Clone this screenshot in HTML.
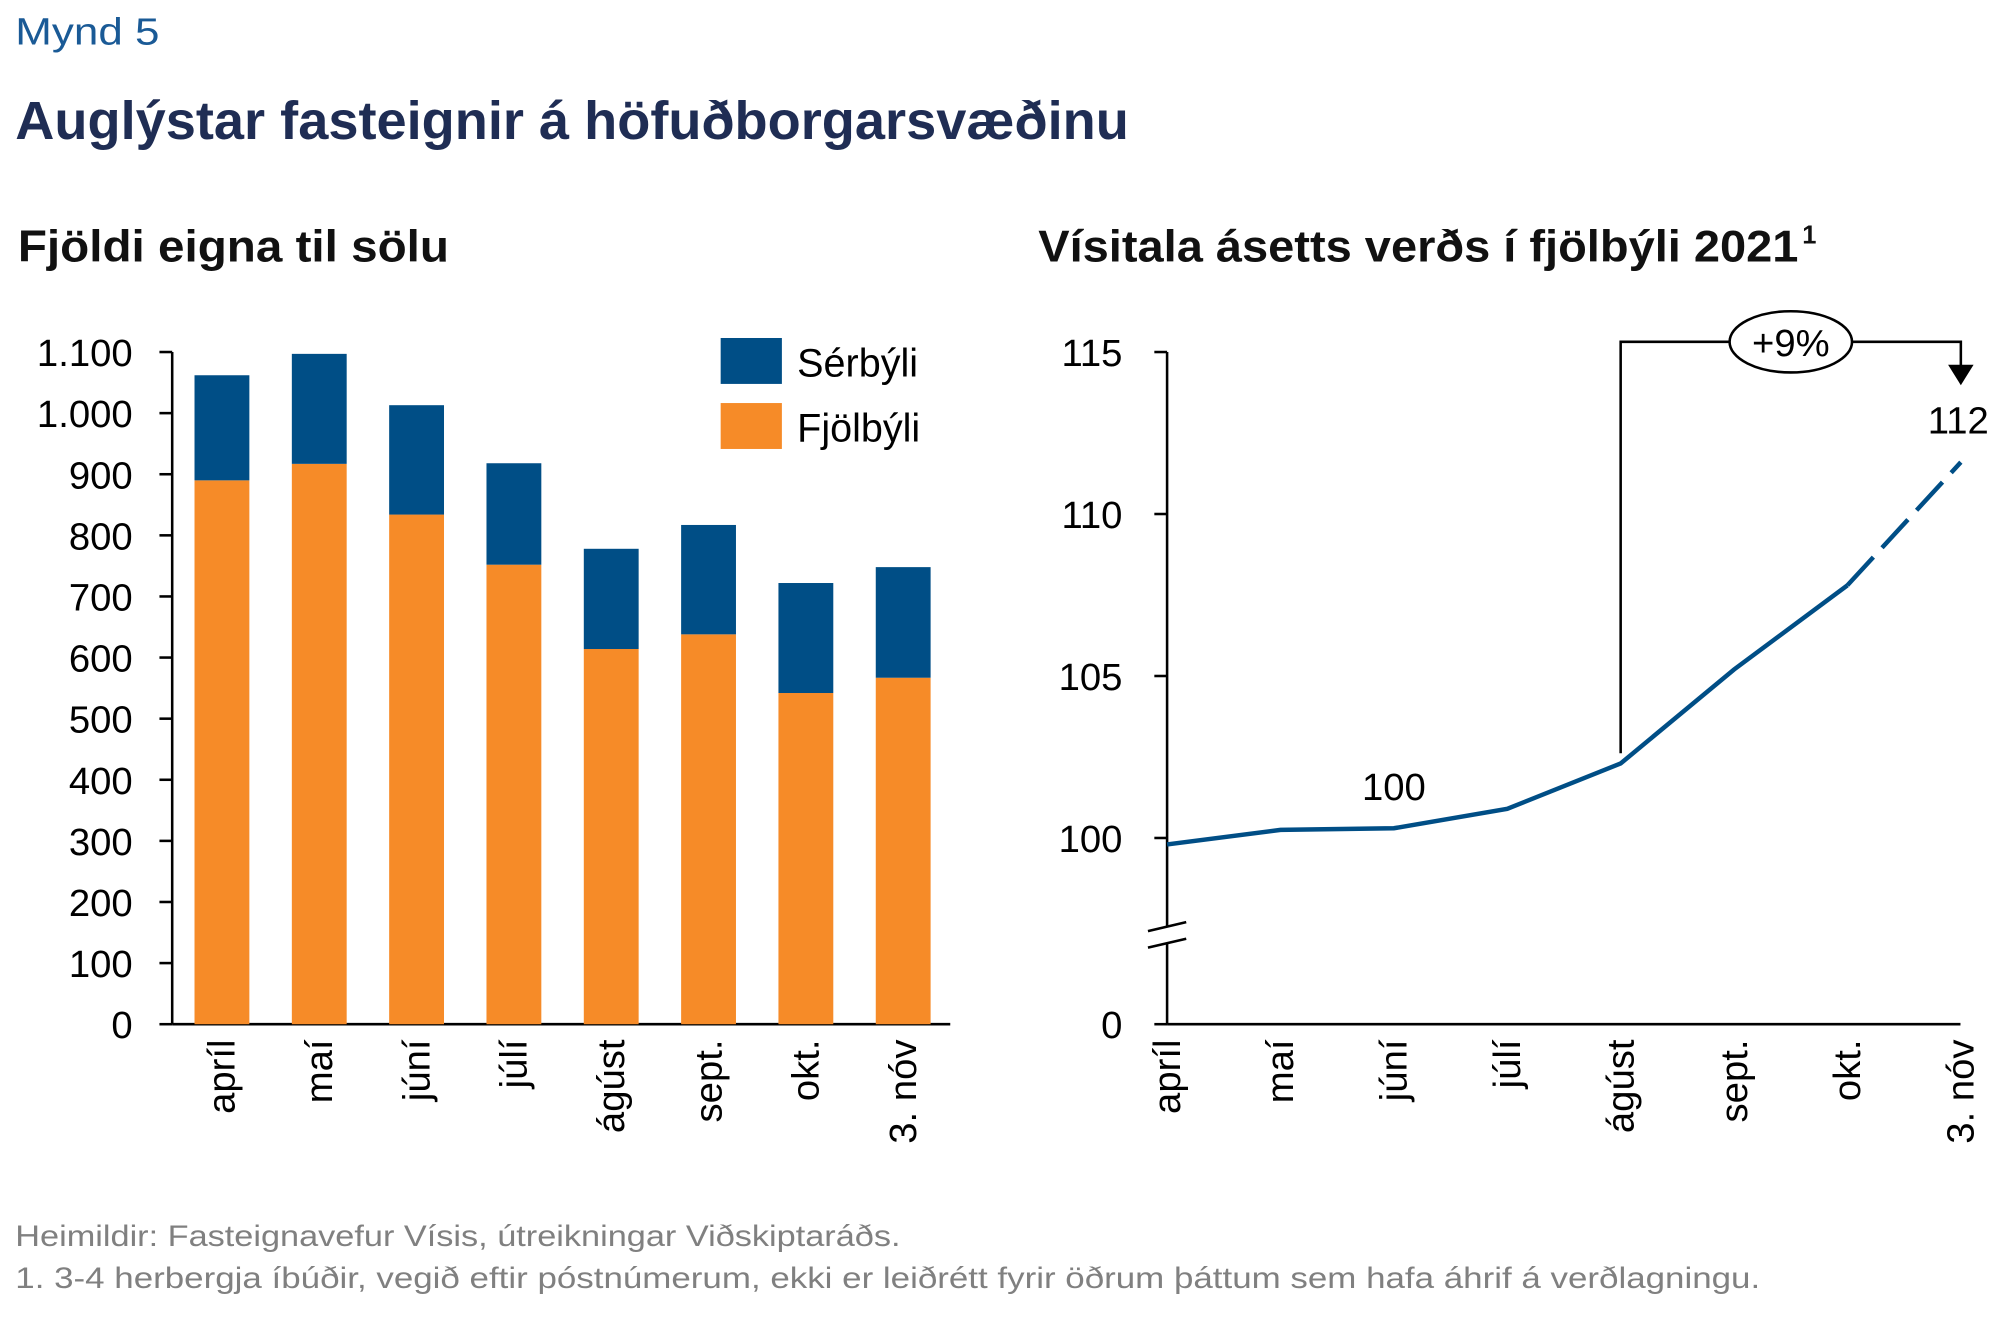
<!DOCTYPE html>
<html><head><meta charset="utf-8"><style>
html,body{margin:0;padding:0;background:#fff}
svg{display:block;font-family:"Liberation Sans",sans-serif}
</style></head><body>
<svg id="c" width="2000" height="1321" viewBox="0 0 1568 1035.7" preserveAspectRatio="none">
<text x="12" y="35" font-size="30" fill="#1a5a96" textLength="113" lengthAdjust="spacingAndGlyphs">Mynd 5</text>
<text x="12" y="109" font-size="42" font-weight="bold" fill="#1f2d54" textLength="873" lengthAdjust="spacingAndGlyphs">Auglýstar fasteignir á höfuðborgarsvæðinu</text>
<text x="14" y="205" font-size="35" font-weight="bold" fill="#111" textLength="338" lengthAdjust="spacingAndGlyphs">Fjöldi eigna til sölu</text>
<text x="814" y="205" font-size="35" font-weight="bold" fill="#111"><tspan textLength="596" lengthAdjust="spacingAndGlyphs">Vísitala ásetts verðs í fjölbýli 2021</tspan><tspan font-size="20" dx="3" dy="-14">1</tspan></text>
<g id="left"></g>
<g id="right"></g>
<text x="12" y="977" font-size="23" fill="#808080" textLength="694" lengthAdjust="spacingAndGlyphs">Heimildir: Fasteignavefur Vísis, útreikningar Viðskiptaráðs.</text>
<text x="12" y="1010" font-size="23" fill="#808080" textLength="1368" lengthAdjust="spacingAndGlyphs">1. 3-4 herbergja íbúðir, vegið eftir póstnúmerum, ekki er leiðrétt fyrir öðrum þáttum sem hafa áhrif á verðlagningu.</text>
</svg>
<script>
const months = ["apríl","maí","júní","júlí","ágúst","sept.","okt.","3. nóv"];
const fjolbyli = [890,917,834,752,614,638,542,567];
const serbyli = [172,180,179,166,164,179,180,181];
const leftTicks = [0,100,200,300,400,500,600,700,800,900,1000,1100];
const leftTickLabels = ["0","100","200","300","400","500","600","700","800","900","1.000","1.100"];
const index = [99.8,100.25,100.3,100.9,102.3,105.2,107.8,111.6];
const rightTicks = [100,105,110,115];

const NS="http://www.w3.org/2000/svg";
function mk(p,t,a,txt){const e=document.createElementNS(NS,t);for(const k in a)e.setAttribute(k,a[k]);if(txt!==undefined)e.textContent=txt;p.appendChild(e);return e;}
const L=document.getElementById('left'), R=document.getElementById('right');
const y0=803, yTop=276;
const ly=v=>y0-(v/1100)*(y0-yTop);
const lx=i=>174+i*76.3;
let e;
e=mk(L,'line',{x1:135,y1:276,x2:135,y2:803,stroke:'#000','stroke-width':2});


e=mk(L,'line',{x1:135,y1:803,x2:745,y2:803,stroke:'#000','stroke-width':2});


leftTicks.forEach((v,i)=>{
  mk(L,'line',{x1:125,y1:ly(v),x2:135,y2:ly(v),stroke:'#000','stroke-width':2});
  e=mk(L,'text',{x:104,y:ly(v)+11,'font-size':30,'text-anchor':'end'},leftTickLabels[i]);
  
  
});
months.forEach((m,i)=>{
  const x=lx(i), w=43;
  e=mk(L,'rect',{x:x-w/2,y:ly(fjolbyli[i]),width:w,height:y0-ly(fjolbyli[i]),fill:'#f68b28'});
  
  
  e=mk(L,'rect',{x:x-w/2,y:ly(fjolbyli[i]+serbyli[i]),width:w,height:ly(fjolbyli[i])-ly(fjolbyli[i]+serbyli[i]),fill:'#004e86'});
  
  
  e=mk(L,'text',{x:x+10,y:815,'font-size':30,'text-anchor':'end',transform:`rotate(-90 ${x+10} 815)`},m);
  
  
});
e=mk(L,'rect',{x:565,y:265,width:48,height:36,fill:'#004e86'});


e=mk(L,'text',{x:625,y:295,'font-size':31},'Sérbýli');


e=mk(L,'rect',{x:565,y:316,width:48,height:36,fill:'#f68b28'});


e=mk(L,'text',{x:625,y:346,'font-size':31},'Fjölbýli');



const ry=v=>657-(v-100)*(657-276)/15;
const rx=i=>915+i*88.9;
e=mk(R,'line',{x1:915,y1:276,x2:915,y2:803,stroke:'#000','stroke-width':2});


mk(R,'rect',{x:900,y:727,width:30,height:12,fill:'#fff'});
mk(R,'line',{x1:900,y1:730,x2:930,y2:723,stroke:'#000','stroke-width':2});
mk(R,'line',{x1:900,y1:743,x2:930,y2:736,stroke:'#000','stroke-width':2});
e=mk(R,'line',{x1:915,y1:803,x2:1537,y2:803,stroke:'#000','stroke-width':2});


rightTicks.forEach(v=>{
  mk(R,'line',{x1:905,y1:ry(v),x2:915,y2:ry(v),stroke:'#000','stroke-width':2});
  e=mk(R,'text',{x:880,y:ry(v)+11,'font-size':30,'text-anchor':'end'},String(v));
  
  
});
mk(R,'line',{x1:905,y1:803,x2:915,y2:803,stroke:'#000','stroke-width':2});
e=mk(R,'text',{x:880,y:814,'font-size':30,'text-anchor':'end'},'0');


months.forEach((m,i)=>{
  const x=rx(i);
  e=mk(R,'text',{x:x+10,y:815,'font-size':30,'text-anchor':'end',transform:`rotate(-90 ${x+10} 815)`},m);
  
  
});
const n=index.length;
let d='';for(let i=0;i<n-1;i++)d+=(i?'L':'M')+rx(i)+' '+ry(index[i]);
e=mk(R,'path',{d:d,fill:'none',stroke:'#004e86','stroke-width':3.5});


e=mk(R,'path',{d:`M${rx(n-2)} ${ry(index[n-2])}L${rx(n-1)} ${ry(index[n-1])}`,fill:'none',stroke:'#004e86','stroke-width':3.5,'stroke-dasharray':'30 10'});


e=mk(R,'text',{x:rx(2),y:ry(index[2])-22,'font-size':30,'text-anchor':'middle'},'100');


e=mk(R,'text',{x:rx(n-1)-2,y:340,'font-size':30,'text-anchor':'middle'},'112');


const ax=rx(4);
e=mk(R,'path',{d:`M${ax} ${ry(index[4])-8}V268H${rx(n-1)}V290`,fill:'none',stroke:'#000','stroke-width':2});


mk(R,'path',{d:`M${rx(n-1)-10} 286L${rx(n-1)+10} 286L${rx(n-1)} 302Z`,fill:'#000'});
e=mk(R,'ellipse',{cx:1404,cy:268,rx:48,ry:24,fill:'#fff',stroke:'#000','stroke-width':2});


e=mk(R,'text',{x:1404,y:279,'font-size':30,'text-anchor':'middle'},'+9%');


</script>
</body></html>
